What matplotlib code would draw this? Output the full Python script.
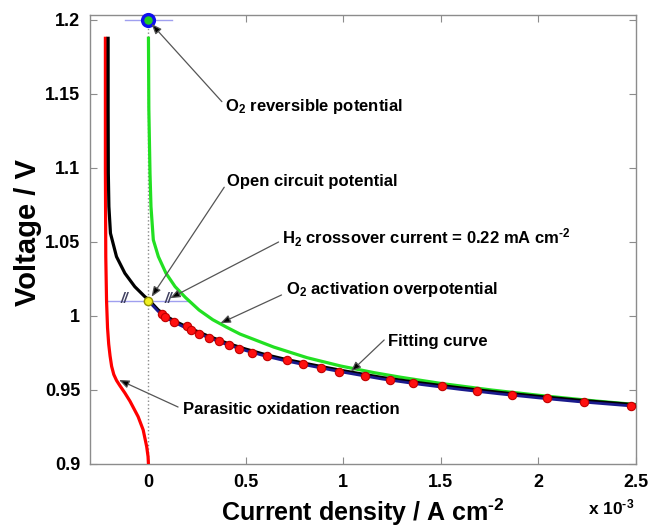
import matplotlib
matplotlib.use("Agg")
import matplotlib.pyplot as plt

plt.rcParams['font.family'] = ['Liberation Sans', 'DejaVu Sans']
plt.rcParams['font.weight'] = 'bold'
plt.rcParams['mathtext.fontset'] = 'custom'
plt.rcParams['mathtext.rm'] = 'Liberation Sans:bold'
plt.rcParams['mathtext.bf'] = 'Liberation Sans:bold'
plt.rcParams['mathtext.it'] = 'Liberation Sans:bold:italic'
plt.rcParams['mathtext.default'] = 'bf'

# ---- data (current density in units of 1e-3 A cm^-2, voltage in V) ----
red_x = [-0.221, -0.221, -0.219, -0.215, -0.210, -0.204, -0.197, -0.189, -0.178, -0.164,
         -0.147, -0.121, -0.095, -0.053, -0.027, -0.009, -0.002, 0.000]
red_v = [1.1887, 1.100, 1.040, 1.010, 0.992, 0.981, 0.973, 0.966, 0.9605, 0.9565,
         0.9530, 0.948, 0.9425, 0.932, 0.923, 0.9117, 0.905, 0.900]

green_x = [0.000, 0.002, 0.008, 0.013, 0.025, 0.051, 0.090, 0.137, 0.190, 0.260,
           0.330, 0.400, 0.470, 0.643, 0.815, 0.987, 1.159, 1.296, 1.503, 1.760,
           2.018, 2.276, 2.500]
green_v = [1.1887, 1.140, 1.0964, 1.0739, 1.0514, 1.0401, 1.0289, 1.0198, 1.0125, 1.0040,
           0.9975, 0.9925, 0.9878, 0.9790, 0.9718, 0.9662, 0.9617, 0.9586, 0.9544, 0.9500,
           0.9462, 0.9428, 0.9402]

black_x = [-0.207, -0.207, -0.206, -0.203, -0.195, -0.164, -0.121, -0.070, -0.018, 0.000,
           0.05, 0.10, 0.15, 0.20, 0.30, 0.40, 0.50, 0.60, 0.70, 0.80, 0.90, 1.00,
           1.20, 1.40, 1.60, 1.80, 2.00, 2.20, 2.50]
black_v = [1.1887, 1.140, 1.0966, 1.0739, 1.0559, 1.0401, 1.0289, 1.0198, 1.0130, 1.0111,
           1.0041, 0.9991, 0.9956, 0.9924, 0.9868, 0.9818, 0.9776, 0.9739, 0.9708, 0.9681,
           0.9655, 0.9630, 0.9584, 0.9547, 0.9514, 0.9484, 0.9457, 0.9432, 0.9400]

fit_x = [0.00, 0.05, 0.10, 0.15, 0.20, 0.30, 0.40, 0.50, 0.60, 0.70, 0.80, 0.90, 1.00,
         1.20, 1.40, 1.60, 1.80, 2.00, 2.20, 2.50]
fit_v = [1.0101, 1.0031, 0.9981, 0.9946, 0.9914, 0.9858, 0.9808, 0.9766, 0.9729, 0.9698,
         0.9671, 0.9645, 0.9620, 0.9574, 0.9537, 0.9504, 0.9474, 0.9447, 0.9422, 0.9390]

dots_x = [0.068, 0.085, 0.133, 0.197, 0.218, 0.262, 0.312, 0.360, 0.416, 0.466, 0.532,
          0.611, 0.712, 0.793, 0.884, 0.977, 1.111, 1.238, 1.357, 1.508, 1.687, 1.867,
          2.044, 2.236, 2.478]
dots_v = [1.0014, 0.9991, 0.9957, 0.9934, 0.9905, 0.9880, 0.9853, 0.9829, 0.9802, 0.9777,
          0.9752, 0.9728, 0.9701, 0.9678, 0.9651, 0.9624, 0.9595, 0.9570, 0.9549, 0.9525,
          0.9493, 0.9468, 0.9444, 0.9419, 0.9394]

rev_point = (0.0, 1.2)
ocp_point = (0.0, 1.01)
crossover = 0.21

x_ticks = [0, 0.5, 1, 1.5, 2, 2.5]
x_tick_labels = ['0', '0.5', '1', '1.5', '2', '2.5']
y_ticks = [0.9, 0.95, 1.0, 1.05, 1.1, 1.15, 1.2]
y_tick_labels = ['0.9', '0.95', '1', '1.05', '1.1', '1.15', '1.2']

fig = plt.figure(figsize=(6.63, 5.27), dpi=100)
ax = fig.add_axes([90/663, 1 - 464/527, (635.5 - 90)/663, (464 - 14.5)/527])
ax.set_xlim(-0.30, 2.5)
ax.set_ylim(0.9, 1.2037)

# vertical dotted zero line
ax.axvline(0, color='#8a8a8a', lw=1.0, ls=':', zorder=1)

# curves
ax.plot(red_x, red_v, color='#ff0000', lw=2.3, zorder=3, solid_capstyle='butt')
ax.plot(green_x, green_v, color='#22e022', lw=2.3, zorder=3, solid_capstyle='butt')
ax.plot(black_x, black_v, color='black', lw=2.3, zorder=4, solid_capstyle='butt')
ax.plot(fit_x, fit_v, color='#1a1a8c', lw=2.0, zorder=5)
ax.plot(dots_x, dots_v, ls='none', marker='o', ms=6, mfc='#ff1010', mec='#c00000',
        mew=0.8, zorder=6)

# horizontal guide lines
ax.plot([-0.12, 0.12], [rev_point[1], rev_point[1]], color='#9f9fef', lw=1.0, zorder=6)
ax.plot([-crossover, crossover], [ocp_point[1], ocp_point[1]], color='#9f9fef', lw=1.0, zorder=2)

# markers
ax.plot(*rev_point, marker='o', ms=8.5, mfc='#22cc22', mec='#1010ee', mew=2.4, zorder=7,
        clip_on=False)
ax.plot(*ocp_point, marker='o', ms=6, mfc='#f0f020', mec='#909000', mew=1.0, zorder=7)

# "//" marks
ax.text(-0.126, 1.0118, '//', fontsize=10, style='italic', color='#404060',
        ha='center', va='center', zorder=8)
ax.text(0.103, 1.0118, '//', fontsize=10, style='italic', color='#404060',
        ha='center', va='center', zorder=8)

# annotations
ann = [
    ('O$_2$ reversible potential', (0.394, 1.1414), (0.377, 1.1448), (0.016, 1.1973)),
    ('Open circuit potential', (0.403, 1.0907), (0.389, 1.0870), (0.016, 1.0130)),
    ('H$_2$ crossover current = 0.22 mA cm$^{\u20102}$', (0.688, 1.0530), (0.668, 1.0500), (0.111, 1.0120)),
    ('O$_2$ activation overpotential', (0.704, 1.0176), (0.683, 1.0142), (0.369, 0.9951)),
    ('Fitting curve', (1.228, 0.9826), (1.210, 0.9838), (1.039, 0.9624)),
    ('Parasitic oxidation reaction', (0.179, 0.9370), (0.152, 0.9385), (-0.151, 0.9568)),
]
for label, tpos, start, target in ann:
    ax.text(tpos[0], tpos[1], label, fontsize=12, fontweight='bold', ha='left',
            va='center', zorder=9)
    ax.annotate('', xy=target, xytext=start,
                arrowprops=dict(arrowstyle='-|>,head_length=0.6,head_width=0.24',
                                ec='#555555', fc='black', lw=0.9,
                                shrinkA=0, shrinkB=0), zorder=9)

# axes styling
for s in ax.spines.values():
    s.set_color('#8c8c8c')
    s.set_linewidth(1.0)
ax.set_xticks(x_ticks)
ax.set_xticklabels(x_tick_labels)
ax.set_yticks(y_ticks)
ax.set_yticklabels(y_tick_labels)
ax.tick_params(direction='in', length=5, width=0.8, color='#8c8c8c', top=True, right=True,
               labelsize=13, pad=7)
for lab in ax.get_xticklabels() + ax.get_yticklabels():
    lab.set_fontweight('bold')

ax.set_xlabel('Current density / A cm$^{\u20102}$', fontsize=18, fontweight='bold')
ax.xaxis.set_label_coords(0.5, -0.072)
ax.set_ylabel('Voltage / V', fontsize=21, fontweight='bold')
ax.yaxis.set_label_coords(-0.088, 0.515)
fig.text(588/663, 1 - 507/527, 'x 10$^{\u20103}$', fontsize=12.5, fontweight='bold', ha='left',
         va='center')

fig.savefig('out.png', dpi=100)
